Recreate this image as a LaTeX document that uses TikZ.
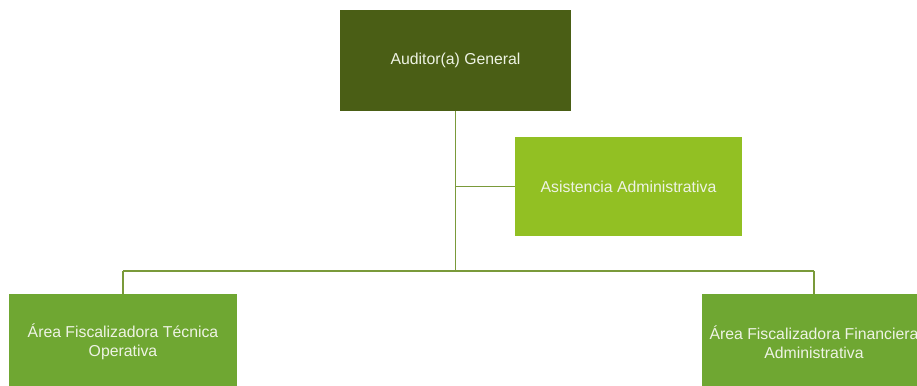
\documentclass[tikz,border=0pt]{standalone}
\usepackage{fontspec}
\setmainfont{Liberation Sans}
\definecolor{topgreen}{HTML}{4A5E15}
\definecolor{asgreen}{HTML}{92C023}
\definecolor{bgreen}{HTML}{6FA732}
\definecolor{linegreen}{HTML}{7A9A3A}
\definecolor{txt}{HTML}{EEF3E4}
\begin{document}
\begin{tikzpicture}[x=1pt,y=-1pt,
  orgbox/.style={rectangle, inner sep=0pt, text=txt, align=center,
    font=\fontsize{15.8}{19}\selectfont},
  conn/.style={draw=linegreen, line width=1.7pt}]
\useasboundingbox (0,0) rectangle (917,385);
\clip (0,0) rectangle (917,385);
\node[orgbox, fill=topgreen, minimum width=231pt, minimum height=101pt] (top) at (455.5,60.5) {Auditor(a)\ General};
\node[orgbox, fill=asgreen, minimum width=227pt, minimum height=99pt] (asis) at (628.5,186.5) {Asistencia Administrativa};
\node[orgbox, fill=bgreen, minimum width=228pt, minimum height=96pt] (left) at (123,342) {Área Fiscalizadora Técnica\\Operativa};
\node[orgbox, fill=bgreen, minimum width=224pt, minimum height=96pt] (right) at (814,342) {Área Fiscalizadora Financiera\\Administrativa};
\coordinate (mid) at (455.5,271);
\coordinate (lb) at (123,271);
\coordinate (rb) at (814,271);
\draw[conn] (top.south) -- (mid);
\draw[conn] (top.south |- asis.west) -- (asis.west);
\draw[conn] (lb) -- (rb);
\draw[conn] (lb) -- (left.north);
\draw[conn] (rb) -- (right.north);
\end{tikzpicture}
\end{document}
